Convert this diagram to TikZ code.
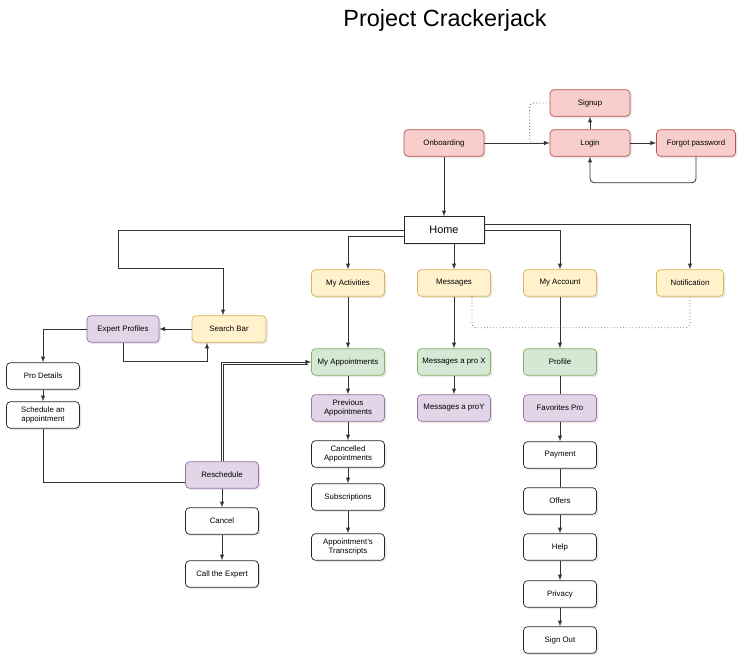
\documentclass[tikz,border=0pt]{standalone}
\usepackage{fontspec}
\setmainfont{Liberation Sans}
\usetikzlibrary{positioning,shapes,arrows,shadows}

\definecolor{redfill}{HTML}{F8CECC}
\definecolor{redline}{HTML}{B85450}
\definecolor{yelfill}{HTML}{FFF2CC}
\definecolor{yelline}{HTML}{D6B656}
\definecolor{grnfill}{HTML}{D5E8D4}
\definecolor{grnline}{HTML}{82B366}
\definecolor{purfill}{HTML}{E1D5E7}
\definecolor{purline}{HTML}{9673A6}

\tikzset{
  box/.style={draw=black!85, fill=white, line width=0.6pt, rounded corners=0.12cm,
    minimum width=2.19cm, minimum height=0.8cm, inner sep=1pt, align=center,
    font=\fontsize{6.7}{7.6}\selectfont,
    drop shadow={opacity=0.18, shadow xshift=1.5pt, shadow yshift=-1.5pt}},
  redbox/.style={box, fill=redfill, draw=redline, minimum width=2.4cm},
  yelbox/.style={box, fill=yelfill, draw=yelline},
  grnbox/.style={box, fill=grnfill, draw=grnline},
  purbox/.style={box, fill=purfill, draw=purline},
  homebox/.style={box, rounded corners=0pt, minimum width=2.4cm, font=\fontsize{9.3}{11}\selectfont},
  line/.style={draw=black!80, line width=0.7pt},
  arrow/.style={line, -latex},
  dots/.style={draw=black!60, dotted, line width=0.7pt, rounded corners=0.12cm},
}

\begin{document}
\begin{tikzpicture}[x=0.03cm,y=-0.03cm]
  \useasboundingbox (0,0) rectangle (750,668);

  \node[font=\fontsize{20}{24}\selectfont] (title) at (445,20) {Project Crackerjack};

  % top row
  \node[redbox] (onb) at (444,143) {Onboarding};
  \node[redbox] (login) at (590,143) {Login};
  \node[redbox] (signup) at (590,103) {Signup};
  \node[redbox, minimum width=2.37cm] (forgot) at (696,143) {Forgot password};
  \node[homebox] (home) at (444,230) {Home};

  % second row
  \node[yelbox] (acts) at (348,283) {My Activities};
  \node[yelbox] (msgs) at (454,283) {Messages};
  \node[yelbox] (acct) at (560,283) {My Account};
  \node[yelbox, minimum width=2.01cm] (notif) at (690,283) {Notification};
  \node[yelbox, minimum width=2.22cm] (sbar) at (229,329) {Search Bar};
  \node[purbox, minimum width=2.16cm] (expert) at (123,329) {Expert Profiles};

  % left column
  \node[box] (prod) at (43,376) {Pro Details};
  \node[box] (sched) at (43,415) {Schedule an\\appointment};
  \node[purbox] (resch) at (222,475) {Reschedule};
  \node[box] (cancel) at (222,521) {Cancel};
  \node[box] (call) at (222,574) {Call the Expert};

  % activities column
  \node[grnbox] (appts) at (348,362) {My Appointments};
  \node[purbox] (prev) at (348,408) {Previous\\Appointments};
  \node[box] (cnld) at (348,454) {Cancelled\\Appointments};
  \node[box] (subs) at (348,497) {Subscriptions};
  \node[box] (trans) at (348,547) {Appointment's\\Transcripts};

  % messages column
  \node[grnbox] (mpx) at (454,362) {Messages a pro X};
  \node[purbox] (mpy) at (454,408) {Messages a proY};

  % account column
  \node[grnbox] (prof) at (560,362) {Profile};
  \node[purbox] (fav) at (560,408) {Favorites Pro};
  \node[box] (pay) at (560,455) {Payment};
  \node[box] (offers) at (560,501) {Offers};
  \node[box] (help) at (560,547) {Help};
  \node[box] (priv) at (560,594) {Privacy};
  \node[box] (out) at (560,640) {Sign Out};

  % connectors
  \draw[arrow] (onb) -- (login);
  \draw[arrow] (login) -- (signup);
  \draw[dots] (signup.west) -- ++(-20,0) |- (login.west);
  \draw[arrow] (login) -- (forgot);
  \draw[arrow, rounded corners=0.12cm] (forgot.south) -- ++(0,26) -| (login.south);
  \draw[arrow] (onb) -- (home);

  \draw[arrow] (home.west) -- ++(-285,0) -- ++(0,38) -| ([xshift=-0.18cm]sbar.north);
  \draw[arrow] ([yshift=-0.18cm]home.west) -| (acts.north);
  \draw[arrow] (home.south -| msgs.north) -- (msgs.north);
  \draw[arrow] (home.east) -| (acct.north);
  \draw[arrow] ([yshift=0.18cm]home.east) -| (notif.north);
  \draw[dots] ([xshift=0.54cm]msgs.south) -- ++(0,31) -| (notif.south);

  \draw[arrow] (sbar) -- (expert);
  \draw[arrow] (expert.south) -- ++(0,19) -| ([xshift=-0.66cm]sbar.south);
  \draw[arrow] (expert.west) -| (prod.north);
  \draw[arrow] (prod) -- (sched);
  \draw[line] (sched.south) |- ([yshift=-0.21cm]resch.west);
  \draw[arrow] ([xshift=-0.03cm]resch.north) |- (appts.west);
  \draw[line] ([xshift=0.04cm]resch.north) |- ([yshift=-0.06cm,xshift=-0.1cm]appts.west);
  \draw[arrow] (resch) -- (cancel);
  \draw[arrow] (cancel) -- (call);

  \draw[arrow] (acts) -- (appts);
  \draw[arrow] (appts) -- (prev);
  \draw[arrow] (prev) -- (cnld);
  \draw[arrow] (cnld) -- (subs);
  \draw[arrow] (subs) -- (trans);

  \draw[arrow] (msgs) -- (mpx);
  \draw[arrow] (mpx) -- (mpy);

  \draw[arrow] (acct) -- (prof);
  \draw[line] (prof) -- (fav);
  \draw[arrow] (fav) -- (pay);
  \draw[line] (pay) -- (offers);
  \draw[arrow] (offers) -- (help);
  \draw[arrow] (help) -- (priv);
  \draw[arrow] (priv) -- (out);
\end{tikzpicture}
\end{document}
